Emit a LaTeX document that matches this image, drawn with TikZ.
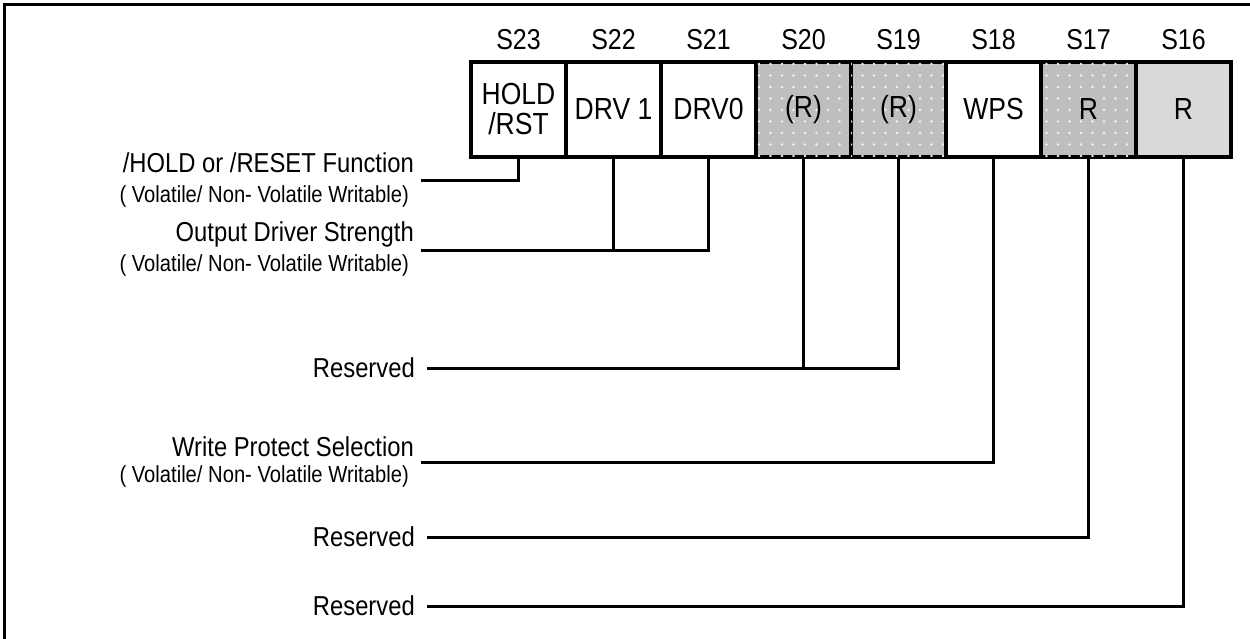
\documentclass[tikz,border=0pt]{standalone}
\usepackage{fontspec}
\usepackage{graphicx}
\setmainfont{Liberation Sans}
\usetikzlibrary{patterns.meta}
\definecolor{dotgray}{HTML}{BEBEBE}
\definecolor{lightg}{HTML}{D9D9D9}
\definecolor{dotwhite}{HTML}{F2F2F2}
\newcommand\vstr[1]{\scalebox{1}[1.15]{#1}}
\begin{document}
\begin{tikzpicture}[x=1pt,y=-1pt,
  reg/.style={draw=black, line width=4pt, minimum width=95pt, minimum height=95pt,
    inner sep=0pt, font=\fontsize{26.5}{31}\selectfont, align=center},
  rsvbox/.style={reg, fill=dotgray,
    postaction={pattern={Dots[distance=11.5pt,radius=1.3pt]}, pattern color=dotwhite}},
  plainr/.style={reg, fill=lightg},
  bitlbl/.style={font=\fontsize{25}{29}\selectfont, inner sep=0pt},
  mainlbl/.style={font=\fontsize{23.8}{28}\selectfont, anchor=east, inner sep=0pt},
  sublbl/.style={font=\fontsize{20.2}{24}\selectfont, anchor=east, inner sep=0pt},
  conn/.style={draw=black, line width=3pt}]
\useasboundingbox (0,0) rectangle (1250,639);
% frame (top and left edges visible)
\draw[line width=3pt] (1252,5) -- (4,5) -- (4,641);
% register cells
\node[reg, fill=white] (b23) at (518.5,109.5) {\vstr{HOLD}\\[-1pt]\vstr{/RST}};
\node[reg, fill=white] (b22) at (613.5,109.5) {\vstr{DRV 1}};
\node[reg, fill=white] (b21) at (708.5,109.5) {\vstr{DRV0}};
\node[rsvbox] (b20) at (803.5,109.5) {\vstr{(R)}};
\node[rsvbox] (b19) at (898.5,109.5) {\vstr{(R)}};
\node[reg, fill=white] (b18) at (993.5,109.5) {\vstr{WPS}};
\node[rsvbox] (b17) at (1088.5,109.5) {\vstr{R}};
\node[plainr] (b16) at (1183.5,109.5) {\vstr{R}};
% bit labels
\node[bitlbl] (s23) at (518.5,40) {\vstr{S23}};
\node[bitlbl] (s22) at (613.5,40) {\vstr{S22}};
\node[bitlbl] (s21) at (708.5,40) {\vstr{S21}};
\node[bitlbl] (s20) at (803.5,40) {\vstr{S20}};
\node[bitlbl] (s19) at (898.5,40) {\vstr{S19}};
\node[bitlbl] (s18) at (993.5,40) {\vstr{S18}};
\node[bitlbl] (s17) at (1088.5,40) {\vstr{S17}};
\node[bitlbl] (s16) at (1183.5,40) {\vstr{S16}};
% left labels
\node[mainlbl] (l1) at (414,163) {\vstr{/HOLD or /RESET Function}};
\node[sublbl] (l1s) at (409,196) {\vstr{( Volatile/ Non- Volatile Writable)}};
\node[mainlbl] (l2) at (414,234) {\vstr{Output Driver Strength}};
\node[sublbl] (l2s) at (409,265) {\vstr{( Volatile/ Non- Volatile Writable)}};
\node[mainlbl] (l3) at (415,368) {\vstr{Reserved}};
\node[mainlbl] (l4) at (414,447) {\vstr{Write Protect Selection}};
\node[sublbl] (l4s) at (409,476) {\vstr{( Volatile/ Non- Volatile Writable)}};
\node[mainlbl] (l5) at (415,537) {\vstr{Reserved}};
\node[mainlbl] (l6) at (415,606) {\vstr{Reserved}};
% connector ends
\coordinate (c1) at (421,181);
\coordinate (c2) at (421,250);
\coordinate (c3) at (427,368);
\coordinate (c4) at (421,462);
\coordinate (c5) at (427,537);
\coordinate (c6) at (427,606);
% connectors
\draw[conn] (b23.south) |- (c1);
\draw[conn] (b21.south) |- (c2);
\draw[conn] (b22.south) -- (b22.south |- c2);
\draw[conn] (b19.south) |- (c3);
\draw[conn] (b20.south) -- (b20.south |- c3);
\draw[conn] (b18.south) |- (c4);
\draw[conn] (b17.south) |- (c5);
\draw[conn] (b16.south) |- (c6);
\end{tikzpicture}
\end{document}
